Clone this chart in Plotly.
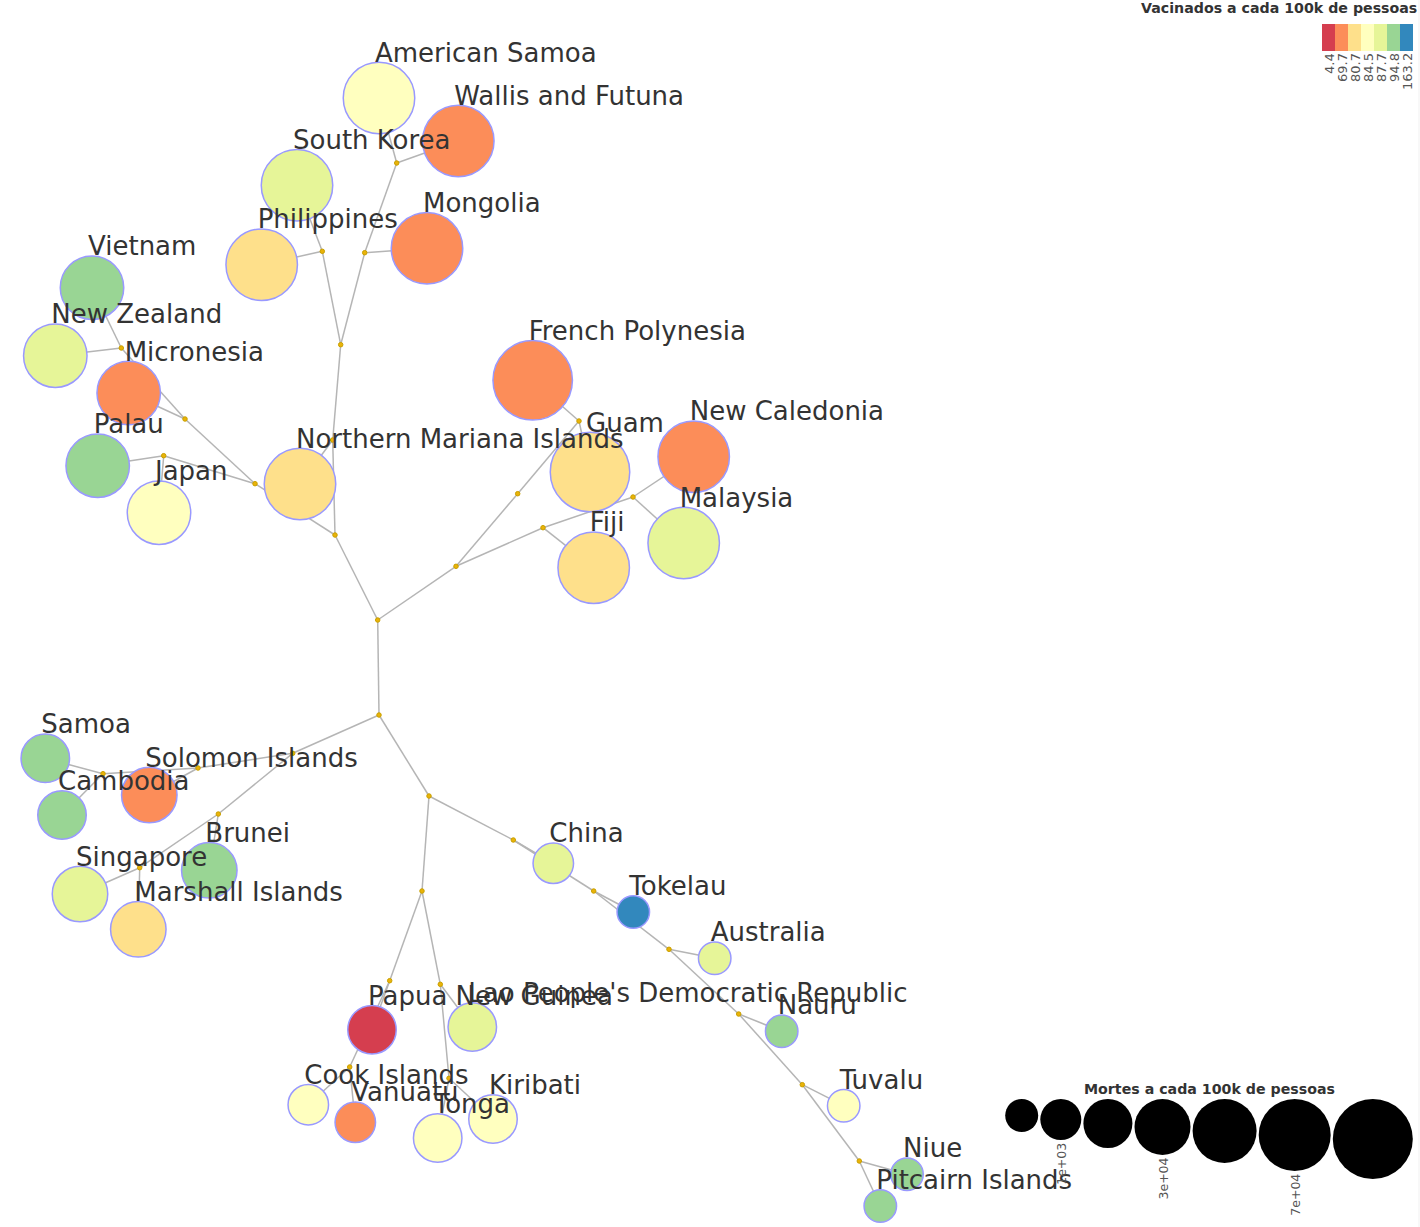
import plotly.graph_objects as go

# ---- Countries (leaves of the tree) ----
countries = ["American Samoa", "Wallis and Futuna", "South Korea", "Philippines", "Mongolia",
             "Vietnam", "New Zealand", "Micronesia", "Palau", "Japan", "Northern Mariana Islands",
             "French Polynesia", "Guam", "New Caledonia", "Malaysia", "Fiji",
             "Samoa", "Cambodia", "Solomon Islands", "Brunei", "Singapore", "Marshall Islands",
             "China", "Tokelau", "Australia", "Nauru", "Tuvalu", "Niue", "Pitcairn Islands",
             "Papua New Guinea", "Lao People's Democratic Republic", "Cook Islands", "Vanuatu",
             "Tonga", "Kiribati"]
country_x = [379, 458.3, 297, 261.7, 427,
             92, 55.3, 128.7, 97.7, 159, 300,
             532.7, 590, 693.7, 683.7, 593.7,
             45.3, 62, 149.3, 209.3, 80, 138.3,
             553.3, 633.3, 714.7, 781.7, 843.7, 907, 880.3,
             372, 472.3, 308.3, 355.3, 437.7, 493]
country_y = [98, 141, 185.3, 264.7, 248.3,
             287.7, 355.7, 393, 465.7, 512.7, 484,
             380.3, 472, 456.7, 543, 567.7,
             758.3, 815, 795, 870.3, 894, 929.3,
             863.3, 912, 958.3, 1031.3, 1105.7, 1174.3, 1206,
             1029.7, 1027, 1104.7, 1122.3, 1138, 1119]
vaccinated = [84.5, 69.7, 87.7, 80.7, 69.7,
              94.8, 87.7, 69.7, 94.8, 84.5, 80.7,
              69.7, 80.7, 69.7, 87.7, 80.7,
              94.8, 94.8, 69.7, 94.8, 87.7, 80.7,
              87.7, 163.2, 87.7, 94.8, 84.5, 94.8, 94.8,
              4.4, 87.7, 84.5, 69.7, 84.5, 84.5]
deaths = [50000, 50000, 50000, 50000, 50000,
          30000, 30000, 30000, 30000, 30000, 50000,
          120000, 120000, 50000, 50000, 50000,
          8000, 8000, 20000, 20000, 20000, 20000,
          1000, 300, 300, 300, 300, 300, 300,
          8000, 8000, 1000, 1000, 8000, 8000]

# ---- Inner tree nodes ----
junction_names = ["r1", "r2", "a1", "a2", "a3", "a4", "a5", "a6", "a7", "a8", "a9", "a10", "a11",
                  "b1", "b2", "b3", "b4",
                  "c1", "c2", "c3", "c4", "c5", "c6", "c7", "c8",
                  "d1", "d2", "d3", "d4", "d5", "d6", "d7", "d8", "d9"]
junction_x = [377.7, 379, 335, 332.7, 340.7, 322.3, 364.7, 396.7, 255, 185, 121.3, 163.7, 456,
              517.7, 579, 543, 633,
              292.7, 198, 103, 218.3, 139.7, 429, 513.3, 593.7,
              669, 738.7, 802.3, 859.3, 422, 389.7, 349.7, 440.3, 449]
junction_y = [620, 715, 535, 440, 344.7, 251.3, 252.7, 163, 483.7, 419, 348, 455.7, 566.3,
              493.7, 421, 527.7, 497,
              753.3, 768, 773.7, 814, 867.7, 796, 840, 891,
              949.3, 1014, 1084.7, 1161, 891, 980.7, 1067, 984.3, 1078.3]

# ---- Tree edges ----
edges = [("r1", "r2"), ("r1", "a1"), ("r1", "a11"),
         ("a1", "a7"), ("a1", "a2"), ("a2", "Northern Mariana Islands"), ("a2", "a3"),
         ("a3", "a4"), ("a3", "a5"), ("a4", "South Korea"), ("a4", "Philippines"),
         ("a5", "Mongolia"), ("a5", "a6"), ("a6", "American Samoa"), ("a6", "Wallis and Futuna"),
         ("a7", "a8"), ("a7", "a10"), ("a8", "Micronesia"), ("a8", "a9"),
         ("a9", "Vietnam"), ("a9", "New Zealand"), ("a10", "Palau"), ("a10", "Japan"),
         ("a11", "b1"), ("a11", "b3"), ("b1", "b2"), ("b2", "French Polynesia"), ("b2", "Guam"),
         ("b3", "Fiji"), ("b3", "b4"), ("b4", "New Caledonia"), ("b4", "Malaysia"),
         ("r2", "c1"), ("r2", "c6"), ("c1", "c2"), ("c1", "c4"), ("c2", "Solomon Islands"),
         ("c2", "c3"), ("c3", "Samoa"), ("c3", "Cambodia"), ("c4", "Brunei"), ("c4", "c5"),
         ("c5", "Singapore"), ("c5", "Marshall Islands"),
         ("c6", "c7"), ("c6", "d5"), ("c7", "China"), ("c7", "c8"), ("c8", "Tokelau"), ("c8", "d1"),
         ("d1", "Australia"), ("d1", "d2"), ("d2", "Nauru"), ("d2", "d3"), ("d3", "Tuvalu"),
         ("d3", "d4"), ("d4", "Niue"), ("d4", "Pitcairn Islands"),
         ("d5", "d6"), ("d5", "d8"), ("d6", "Papua New Guinea"), ("d6", "d7"),
         ("d7", "Cook Islands"), ("d7", "Vanuatu"),
         ("d8", "Lao People's Democratic Republic"), ("d8", "d9"), ("d9", "Tonga"), ("d9", "Kiribati")]

# ---- Legend scales ----
vacc_bins = [4.4, 69.7, 80.7, 84.5, 87.7, 94.8, 163.2]
vacc_labels = ["4.4", "69.7", "80.7", "84.5", "87.7", "94.8", "163.2"]
death_bins = [300, 1000, 8000, 20000, 30000, 50000, 120000]
death_labels = ["", "1e+03", "", "3e+04", "", "7e+04", ""]

# ---- Styling ----
palette = ["#d53e4f", "#fc8d59", "#fee08b", "#ffffbf", "#e6f598", "#99d594", "#3288bd"]
radii = [16.5, 20.5, 24.5, 28, 32, 36, 40]
FONT = "DejaVu Sans"
TXT = "#333333"

color_of = dict(zip(vacc_bins, palette))
radius_of = dict(zip(death_bins, radii))
pos = dict(zip(countries, zip(country_x, country_y)))
pos.update(zip(junction_names, zip(junction_x, junction_y)))

edge_x, edge_y = [], []
for a, b in edges:
    edge_x += [pos[a][0], pos[b][0], None]
    edge_y += [pos[a][1], pos[b][1], None]

node_r = [radius_of[d] for d in deaths]

fig = go.Figure()
fig.add_trace(go.Scatter(x=edge_x, y=edge_y, mode="lines",
                         line=dict(color="#b5b5b5", width=1.5), hoverinfo="skip"))
fig.add_trace(go.Scatter(x=junction_x, y=junction_y, mode="markers",
                         marker=dict(size=4.5, color="#eab308", line=dict(color="#c9a000", width=1)),
                         hoverinfo="skip"))
fig.add_trace(go.Scatter(x=country_x, y=country_y, mode="markers",
                         marker=dict(size=[2 * r - 0.5 for r in node_r],
                                     color=[color_of[v] for v in vaccinated],
                                     line=dict(color="#9999ff", width=1.5), opacity=1),
                         text=countries, hoverinfo="text"))
fig.add_trace(go.Scatter(x=[x - 4 for x in country_x],
                         y=[y - r + 6 for y, r in zip(country_y, node_r)],
                         mode="text", text=countries, textposition="top right",
                         textfont=dict(family=FONT, size=26, color=TXT), hoverinfo="skip"))

# colour legend
swatch_x = [1328.5 + 13 * i for i in range(len(vacc_bins))]
fig.add_trace(go.Bar(x=swatch_x, y=[27] * 7, base=[24] * 7, width=[13] * 7,
                     marker=dict(color=palette, line=dict(width=0)), hoverinfo="skip"))

# size legend
size_cx, x_cursor = [], 1005.2
for r in radii:
    size_cx.append(x_cursor + r)
    x_cursor += 2 * r + 2.1
size_cy = [1099 + r for r in radii]
fig.add_trace(go.Scatter(x=size_cx, y=size_cy, mode="markers",
                         marker=dict(size=[2 * r for r in radii], color="#000000", line=dict(width=0), opacity=1),
                         hoverinfo="skip"))

annotations = [
    dict(x=1417, y=16, text="<b>Vacinados a cada 100k de pessoas</b>", xanchor="right", yanchor="bottom",
         font=dict(family=FONT, size=14.2, color=TXT)),
    dict(x=1209, y=1097, text="<b>Mortes a cada 100k de pessoas</b>", xanchor="center", yanchor="bottom",
         font=dict(family=FONT, size=14.2, color=TXT)),
]
for x, lab in zip(swatch_x, vacc_labels):
    annotations.append(dict(x=x + 0.5, y=53.5, text=lab, textangle=-90, xanchor="center", yanchor="top",
                            font=dict(family=FONT, size=13, color="#555555")))
for x, y, r, lab in zip(size_cx, size_cy, radii, death_labels):
    if lab:
        annotations.append(dict(x=x + 0.5, y=y + r + 2.5, text=lab, textangle=-90, xanchor="center", yanchor="top",
                                font=dict(family=FONT, size=12.5, color="#555555")))
for a in annotations:
    a.update(xref="x", yref="y", showarrow=False, borderpad=0, borderwidth=0)

fig.update_layout(
    width=1420, height=1227, margin=dict(l=0, r=0, t=0, b=0),
    paper_bgcolor="#ffffff", plot_bgcolor="#ffffff", showlegend=False,
    font=dict(family=FONT), annotations=annotations,
    shapes=[dict(type="rect", xref="paper", yref="paper", x0=1418 / 1420, x1=1, y0=0, y1=1,
                 fillcolor="#f8f8f8", line=dict(width=0), layer="below")],
    xaxis=dict(range=[0, 1420], visible=False, fixedrange=True),
    yaxis=dict(range=[1227, 0], visible=False, fixedrange=True),
)
fig.write_html("out.html", config=dict(displayModeBar=False),
               post_script="document.body.style.margin='0';document.body.style.overflow='hidden';")
